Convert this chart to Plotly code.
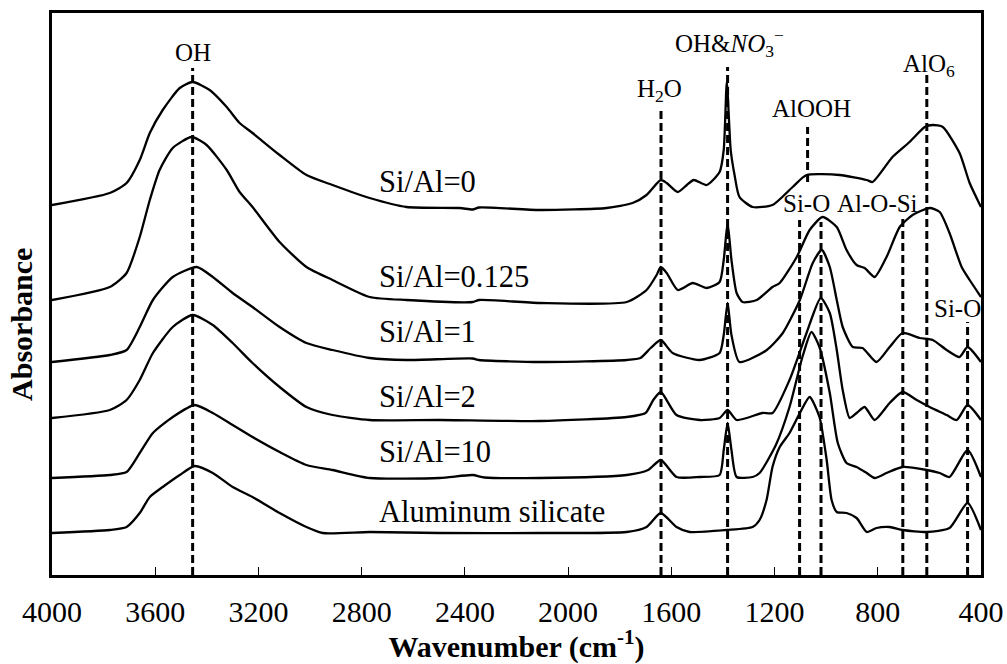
import plotly.graph_objects as go

# ---------------- data (wavenumber in cm-1, absorbance in offset a.u.) ----------------
wn_0 = [4000, 3776, 3711, 3660, 3621, 3571, 3505, 3455, 3389, 3323, 3273, 3223, 3118, 3014, 2913, 2769,
        2626, 2420, 2370, 2345, 2110, 1851, 1750, 1696, 1641, 1618, 1575, 1540, 1513, 1463, 1413, 1397,
        1385, 1370, 1355, 1336, 1285, 1208, 1130, 1076, 948, 843, 820, 743, 677, 618, 587, 548, 483, 444, 400]
ab_0 = [3.70, 3.82, 3.92, 4.15, 4.42, 4.65, 4.87, 4.93, 4.85, 4.68, 4.52, 4.42, 4.20, 4.00, 3.90, 3.77,
        3.68, 3.67, 3.655, 3.675, 3.65, 3.67, 3.72, 3.80, 3.95, 3.92, 3.83, 3.90, 3.95, 3.90, 4.03, 4.25,
        4.93, 4.25, 4.00, 3.78, 3.68, 3.70, 3.88, 4.00, 4.00, 3.95, 3.93, 4.18, 4.33, 4.48, 4.50, 4.48, 4.22, 3.92, 3.68]

wn_1 = [4000, 3776, 3711, 3660, 3621, 3583, 3532, 3459, 3401, 3323, 3273, 3223, 3118, 3014, 2913, 2769,
        2626, 2370, 2345, 2110, 1773, 1696, 1657, 1641, 1618, 1575, 1517, 1463, 1413, 1397, 1382, 1367,
        1347, 1324, 1269, 1208, 1180, 1114, 1064, 1014, 959, 921, 882, 851, 812, 766, 715, 665, 599, 560,
        522, 475, 444, 400]
ab_1 = [2.75, 2.88, 3.02, 3.38, 3.75, 4.05, 4.27, 4.38, 4.30, 4.05, 3.83, 3.68, 3.33, 3.08, 2.95, 2.78,
        2.75, 2.73, 2.75, 2.72, 2.73, 2.85, 3.00, 3.08, 3.02, 2.85, 2.92, 2.87, 2.93, 3.15, 3.52, 3.15,
        2.82, 2.73, 2.75, 2.88, 2.92, 3.18, 3.45, 3.58, 3.48, 3.25, 3.10, 3.07, 2.98, 3.18, 3.48, 3.60, 3.67, 3.63,
        3.42, 3.08, 2.95, 2.78]

wn_2 = [4000, 3776, 3711, 3660, 3609, 3532, 3439, 3377, 3300, 3223, 3118, 3014, 2913, 2769, 2626, 2370,
        2345, 2110, 1773, 1720, 1680, 1641, 1595, 1490, 1413, 1397, 1382, 1367, 1336, 1230, 1168, 1102,
        1052, 1017, 986, 959, 936, 897, 859, 805, 754, 704, 638, 587, 533, 483, 452, 400]
ab_2 = [2.13, 2.20, 2.25, 2.48, 2.75, 2.98, 3.08, 2.98, 2.82, 2.68, 2.48, 2.32, 2.25, 2.17, 2.15, 2.165,
        2.15, 2.13, 2.15, 2.17, 2.27, 2.35, 2.22, 2.15, 2.22, 2.40, 2.72, 2.40, 2.13, 2.25, 2.42, 2.75,
        3.12, 3.25, 3.08, 2.75, 2.48, 2.28, 2.27, 2.13, 2.28, 2.42, 2.37, 2.35, 2.25, 2.18, 2.28, 2.13]

wn_3 = [4000, 3776, 3711, 3660, 3609, 3532, 3455, 3377, 3300, 3223, 3118, 3014, 2913, 2769, 2498, 2110,
        1773, 1700, 1670, 1641, 1580, 1490, 1413, 1382, 1347, 1247, 1208, 1142, 1076, 1021, 986, 959,
        936, 909, 882, 851, 812, 754, 704, 649, 599, 533, 494, 452, 400]
ab_3 = [1.57, 1.65, 1.75, 1.95, 2.22, 2.48, 2.60, 2.50, 2.32, 2.12, 1.88, 1.68, 1.60, 1.55, 1.55, 1.54,
        1.58, 1.62, 1.75, 1.83, 1.60, 1.55, 1.57, 1.65, 1.55, 1.62, 1.62, 1.95, 2.42, 2.77, 2.62, 2.25,
        1.85, 1.57, 1.62, 1.68, 1.55, 1.72, 1.83, 1.75, 1.68, 1.60, 1.55, 1.70, 1.55]

wn_4 = [4000, 3776, 3711, 3660, 3609, 3532, 3447, 3377, 3300, 3223, 3118, 3014, 2913, 2769, 2498, 2370,
        2324, 2110, 1773, 1690, 1641, 1580, 1490, 1413, 1397, 1382, 1367, 1347, 1285, 1258, 1195, 1142,
        1092, 1057, 1026, 986, 955, 921, 882, 843, 812, 766, 704, 610, 560, 522, 452, 400]
ab_4 = [0.97, 1.00, 1.03, 1.22, 1.42, 1.58, 1.70, 1.62, 1.50, 1.38, 1.23, 1.10, 1.05, 0.97, 0.97, 1.00,
        0.975, 0.97, 1.00, 1.05, 1.15, 0.98, 0.98, 1.00, 1.25, 1.52, 1.25, 0.98, 0.98, 1.02, 1.30, 1.68,
        2.18, 2.43, 2.28, 1.82, 1.32, 1.12, 1.08, 1.02, 0.97, 1.02, 1.08, 1.05, 1.02, 0.98, 1.25, 0.98]

wn_5 = [4000, 3776, 3711, 3660, 3621, 3571, 3505, 3447, 3377, 3300, 3223, 3118, 3014, 2951, 2769, 2498,
        2110, 1773, 1696, 1641, 1580, 1529, 1385, 1285, 1258, 1231, 1208, 1180, 1142, 1102, 1064, 1026,
        998, 979, 959, 921, 882, 843, 805, 754, 704, 610, 522, 452, 400]
ab_5 = [0.42, 0.45, 0.48, 0.62, 0.78, 0.88, 1.00, 1.09, 1.02, 0.88, 0.78, 0.62, 0.48, 0.42, 0.43, 0.42,
        0.42, 0.43, 0.48, 0.62, 0.48, 0.43, 0.45, 0.48, 0.55, 0.75, 1.08, 1.28, 1.42, 1.62, 1.78, 1.58,
        1.15, 0.75, 0.63, 0.62, 0.57, 0.43, 0.47, 0.48, 0.45, 0.43, 0.47, 0.72, 0.45]

series_names = ["Si/Al=0", "Si/Al=0.125", "Si/Al=1", "Si/Al=2", "Si/Al=10", "Aluminum silicate"]
series_wn = [wn_0, wn_1, wn_2, wn_3, wn_4, wn_5]
series_ab = [ab_0, ab_1, ab_2, ab_3, ab_4, ab_5]
name_label_wn = 2742
name_label_ab = [3.93, 2.98, 2.43, 1.78, 1.23, 0.63]

# band assignments (dashed markers)
band_wn = [3455, 1640, 1382, 1072, 1103, 1020, 703, 610, 452]
band_top = [5.07, 4.68, 5.08, 4.48, 3.55, 3.53, 3.57, 5.00, 2.53]
band_bottom = [0, 0, 0, 3.93, 0, 0, 0, 0, 0]

band_text = ["OH", "H<sub>2</sub>O", "OH&amp;<i>NO</i><sub>3</sub><sup>\u2212</sup>", "AlOOH",
             "Si-O", "Al-O-Si", "AlO<sub>6</sub>", "Si-O"]
band_text_wn = [3455, 1645, 1374, 1057, 1076, 800, 602, 492]
band_text_ab = [5.23, 4.85, 5.32, 4.67, 3.72, 3.72, 5.10, 2.67]

x_ticks = [4000, 3600, 3200, 2800, 2400, 2000, 1600, 1200, 800, 400]

FONT = "Liberation Serif"

fig = go.Figure()

for wn, ab, nm in zip(series_wn, series_ab, series_names):
    fig.add_trace(go.Scatter(x=wn, y=ab, mode="lines", name=nm,
                             line=dict(color="black", width=2.3, shape="spline", smoothing=0.6),
                             showlegend=False))

for w, t, b in zip(band_wn, band_top, band_bottom):
    fig.add_trace(go.Scatter(x=[w, w], y=[b, t], mode="lines",
                             line=dict(color="black", width=3, dash="8px,4px"),
                             showlegend=False, hoverinfo="skip"))

annotations = []
for nm, y in zip(series_names, name_label_ab):
    annotations.append(dict(x=name_label_wn, y=y, text=nm, showarrow=False, xanchor="left",
                            yanchor="middle", font=dict(family=FONT, size=30.5, color="black")))
for t, x, y in zip(band_text, band_text_wn, band_text_ab):
    annotations.append(dict(x=x, y=y, text=t, showarrow=False, xanchor="center",
                            yanchor="middle", font=dict(family=FONT, size=25, color="black")))
# y-axis title (sits a little below the plot's vertical centre, as in the original)
annotations.append(dict(xref="paper", yref="paper", x=0, y=0.445, xshift=-30,
                        text="<b>Absorbance</b>", textangle=-90, showarrow=False,
                        xanchor="center", yanchor="middle",
                        font=dict(family=FONT, size=30, color="black")))

fig.update_layout(
    width=1007, height=664,
    margin=dict(l=52, r=26, t=13, b=89, autoexpand=False),
    paper_bgcolor="white", plot_bgcolor="white",
    font=dict(family=FONT, color="black", size=30),
    annotations=annotations,
    xaxis=dict(range=[4000, 400], tickvals=x_ticks, ticktext=[str(v) for v in x_ticks],
               ticks="inside", ticklen=8, tickwidth=1.2, tickcolor="black",
               ticklabelstandoff=8,
               showline=True, linewidth=3, linecolor="black", mirror=True,
               showgrid=False, zeroline=False,
               tickfont=dict(family=FONT, size=30, color="black"),
               title=dict(text="<b>Wavenumber (cm<sup>-1</sup>)</b>", standoff=10,
                          font=dict(family=FONT, size=30, color="black"))),
    yaxis=dict(range=[0, 5.62], showticklabels=False, ticks="",
               showline=True, linewidth=3, linecolor="black", mirror=True,
               showgrid=False, zeroline=False),
)

fig.write_html("out.html", config={"displayModeBar": False},
               post_script="document.body.style.margin='0px';document.body.style.overflow='hidden';")
